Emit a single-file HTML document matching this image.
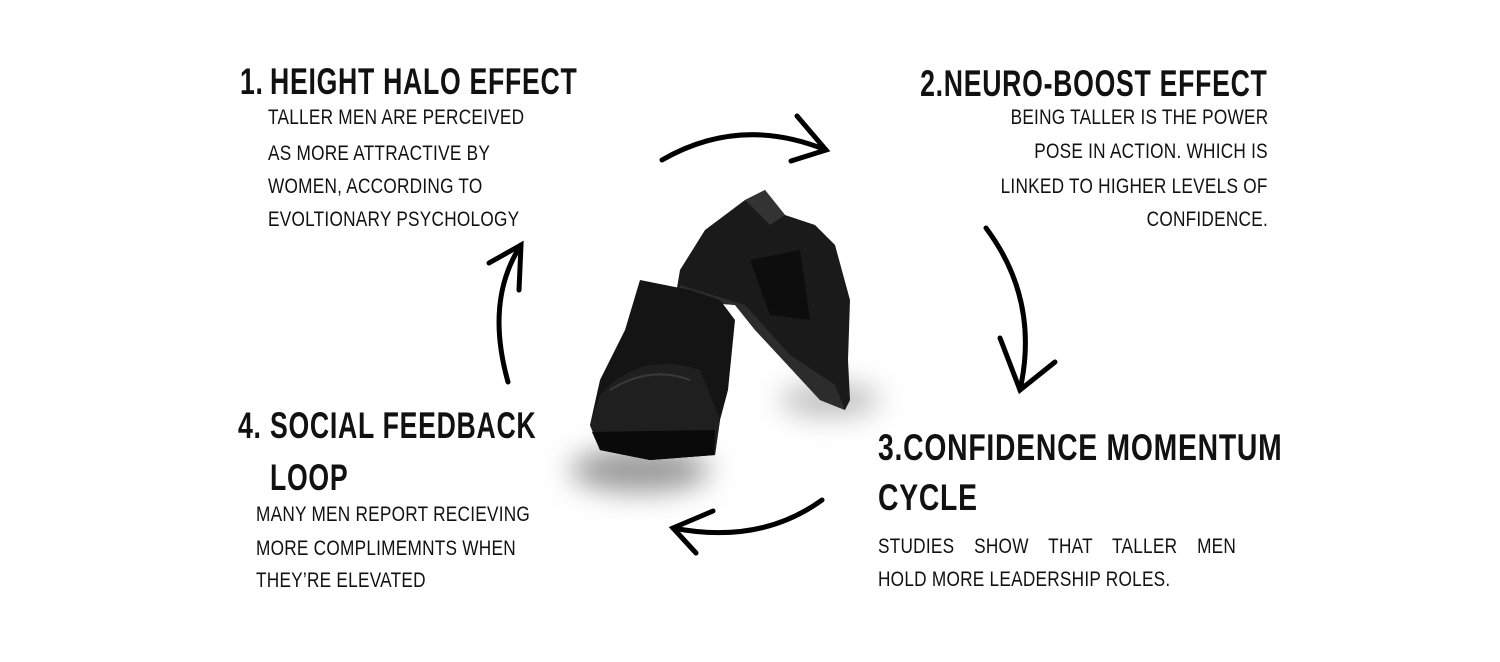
<!DOCTYPE html>
<html><head><meta charset="utf-8"><style>
body{margin:0;width:1500px;height:662px;background:#fff;position:relative;overflow:hidden;font-family:"Liberation Sans Narrow","Liberation Sans",sans-serif;color:#111}
.t{position:absolute;white-space:nowrap;line-height:1;transform-origin:left center}
.r{transform-origin:right center}
.h{font-weight:bold;font-size:37px;letter-spacing:1px}
.b{font-size:21px;letter-spacing:.3px}
</style></head><body>
<svg width="1500" height="662" style="position:absolute;left:0;top:0">
<defs><filter id="bl" x="-50%" y="-100%" width="200%" height="300%"><feGaussianBlur stdDeviation="14"/></filter></defs>
<g fill="none" stroke="#000" stroke-width="5" stroke-linecap="round">
<path d="M662 160 Q740 115 826 150"/><path d="M797 116 L826 150 L791 161"/>
<path d="M986 228 Q1040 300 1020 390"/><path d="M1000 338 L1020 390 L1055 362"/>
<path d="M822 500 Q760 545 673 528"/><path d="M713 511 L673 528 L696 553"/>
<path d="M508 382 Q485 300 521 245"/><path d="M489 263 L521 245 L519 290"/>
</g>
<ellipse cx="640" cy="470" rx="70" ry="22" fill="#999" filter="url(#bl)"/>
<ellipse cx="830" cy="400" rx="50" ry="16" fill="#bbb" filter="url(#bl)"/>
<path d="M745 200 L765 190 L785 215 L815 225 L835 245 L850 300 L848 360 L850 400 L845 410 L820 400 L755 330 L735 305 L675 300 L680 270 L705 230 Z" fill="#1a1a1a"/>
<path d="M675 300 L735 305 L760 335 L820 400 L845 410 L835 385 L790 355 L745 305 L680 285 Z" fill="#2c2c2c"/>
<path d="M745 200 L765 190 L785 215 L770 225 Z" fill="#333"/>
<path d="M750 260 L800 250 L810 320 L770 315 Z" fill="#0d0d0d"/>
<path d="M640 280 L690 290 L720 300 L735 320 L728 390 L720 420 L715 455 L650 460 L600 450 L590 425 L600 380 L625 330 Z" fill="#141414"/>
<path d="M600 395 Q640 350 700 370 L720 420 L715 455 L650 460 L600 450 L590 425 Z" fill="#1f1f1f"/>
<path d="M592 432 L715 430 L714 455 L650 460 L600 450 Z" fill="#0a0a0a"/>
<path d="M610 390 Q650 365 690 380" stroke="#3a3a3a" stroke-width="2" fill="none"/>
</svg>

<div class="t h" style="left:240px;top:63px;transform:scaleX(.72)">1.</div>
<div class="t h" style="left:270px;top:63px;transform:scaleX(.72)">HEIGHT HALO EFFECT</div>
<div class="t b" style="left:268px;top:107px;transform:scaleX(.82)">TALLER MEN ARE PERCEIVED</div>
<div class="t b" style="left:268px;top:143px;transform:scaleX(.82)">AS MORE ATTRACTIVE BY</div>
<div class="t b" style="left:268px;top:176px;transform:scaleX(.82)">WOMEN, ACCORDING TO</div>
<div class="t b" style="left:268px;top:209px;transform:scaleX(.82)">EVOLTIONARY PSYCHOLOGY</div>

<div class="t h r" style="right:232px;top:65px;transform:scaleX(.72)">2.NEURO-BOOST EFFECT</div>
<div class="t b r" style="right:232px;top:107px;transform:scaleX(.82)">BEING TALLER IS THE POWER</div>
<div class="t b r" style="right:232px;top:141px;transform:scaleX(.82)">POSE IN ACTION. WHICH IS</div>
<div class="t b r" style="right:232px;top:176px;transform:scaleX(.82)">LINKED TO HIGHER LEVELS OF</div>
<div class="t b r" style="right:232px;top:209px;transform:scaleX(.82)">CONFIDENCE.</div>

<div class="t h" style="left:878px;top:429px;transform:scaleX(.765)">3.CONFIDENCE MOMENTUM</div>
<div class="t h" style="left:878px;top:479px;transform:scaleX(.765)">CYCLE</div>
<div class="t b" style="left:878px;top:536px;transform:scaleX(.82);word-spacing:18px">STUDIES SHOW THAT TALLER MEN</div>
<div class="t b" style="left:878px;top:569px;transform:scaleX(.82)">HOLD MORE LEADERSHIP ROLES.</div>

<div class="t h" style="left:238px;top:407px;transform:scaleX(.72)">4.</div>
<div class="t h" style="left:270px;top:407px;transform:scaleX(.72)">SOCIAL FEEDBACK</div>
<div class="t h" style="left:270px;top:459px;transform:scaleX(.72)">LOOP</div>
<div class="t b" style="left:256px;top:504px;transform:scaleX(.82)">MANY MEN REPORT RECIEVING</div>
<div class="t b" style="left:256px;top:538px;transform:scaleX(.82)">MORE COMPLIMEMNTS WHEN</div>
<div class="t b" style="left:256px;top:570px;transform:scaleX(.82)">THEY’RE ELEVATED</div>
</body></html>
